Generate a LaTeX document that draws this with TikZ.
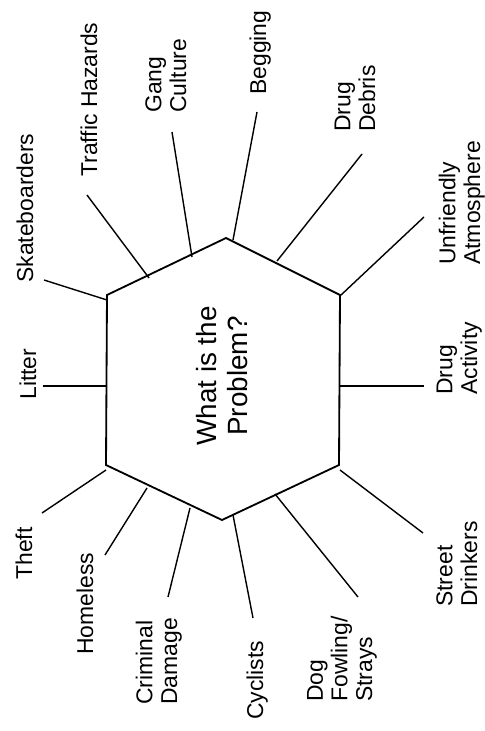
\documentclass[tikz,border=0pt]{standalone}
\usepackage{fontspec}
\setmainfont{Liberation Sans}
\usetikzlibrary{calc}
\tikzset{
  issue/.style={rotate=90, anchor=base west, align=left, inner sep=0pt,
              font=\fontsize{16.3}{17.5}\selectfont},
  hub/.style={rotate=90, align=center, inner sep=0pt,
              font=\fontsize{19.8}{22.5}\selectfont},
  rim/.style={line width=1.3pt, line join=miter},
  spoke/.style={line width=1pt},
}
\begin{document}
\begin{tikzpicture}[x=0.25mm, y=-0.25mm]
        \useasboundingbox (0,0) rectangle (485,731);
        % hexagon corners
        \coordinate (ul) at (107,295);
        \coordinate (tp) at (226,238);
        \coordinate (ur) at (340,295);
        \coordinate (lr) at (339,465);
        \coordinate (bt) at (222,520);
        \coordinate (ll) at (106,465);
        \draw[rim] (ul) -- (tp) -- (ur) -- (lr) -- (bt) -- (ll) -- cycle;
        \node[hub] (prob) at (222,376) {What is the\\Problem?};
        % labels (placed at the baseline of their last line)
        \node[issue] (sk) at (33,283)  {Skateboarders};
        \node[issue] (tr) at (97,177)  {Traffic Hazards};
        \node[issue] (gc) at (186,113) {Gang\\Culture};
        \node[issue] (bg) at (266,95)  {Begging};
        \node[issue] (dd) at (375,132) {Drug\\Debris};
        \node[issue] (ua) at (480,265) {Unfriendly\\Atmosphere};
        \node[issue] (li) at (36,400)  {Litter};
        \node[issue] (da) at (477,395) {Drug\\Activity};
        \node[issue] (th) at (32,580)  {Theft};
        \node[issue] (hm) at (93,655)  {Homeless};
        \node[issue] (cd) at (177,705) {Criminal\\Damage};
        \node[issue] (cy) at (263,720) {Cyclists};
        \node[issue] (df) at (372,702) {Dog\\Fowling/\\Strays};
        \node[issue] (sd) at (477,607) {Street\\Drinkers};
        % spoke ends
        \coordinate (sk1) at (44,280);   \coordinate (sk2) at (107,300);
        \coordinate (tr1) at (87,195);   \coordinate (tr2) at (149,278);
        \coordinate (gc1) at (172,132);  \coordinate (gc2) at (192,257);
        \coordinate (bg1) at (257,112);  \coordinate (bg2) at (233,240);
        \coordinate (dd1) at (362,154);  \coordinate (dd2) at (277,261);
        \coordinate (ua1) at (424,217);  \coordinate (ua2) at (341,295);
        \coordinate (li1) at (43,386);   \coordinate (li2) at (107,386);
        \coordinate (da1) at (424,386);  \coordinate (da2) at (340,386);
        \coordinate (th1) at (42,513);   \coordinate (th2) at (106,470);
        \coordinate (hm1) at (105,555);  \coordinate (hm2) at (147,488);
        \coordinate (cd1) at (168,597);  \coordinate (cd2) at (190,508);
        \coordinate (cy1) at (253,618);  \coordinate (cy2) at (233,515);
        \coordinate (df1) at (358,597);  \coordinate (df2) at (275,494);
        \coordinate (sd1) at (423,533);  \coordinate (sd2) at (340,470);
        \foreach \s in {sk,tr,gc,bg,dd,ua,li,da,th,hm,cd,cy,df,sd}
          \draw[spoke] (\s1) -- (\s2);
\end{tikzpicture}
\end{document}
